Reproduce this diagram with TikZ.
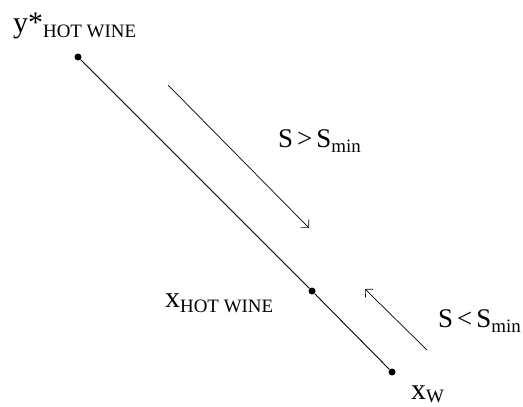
\documentclass[tikz,border=0pt]{standalone}
\usepackage{fontspec}
\setmainfont{Liberation Serif}
\usetikzlibrary{arrows.meta}
\newcommand\Lmain{\fontsize{30}{32}\selectfont}
\newcommand\Lsmain{\fontsize{27}{29}\selectfont}
\newcommand\Lsub{\fontsize{19}{20}\selectfont}
\begin{document}
\begin{tikzpicture}[x=1bp,y=-1bp,
  dot/.style={circle,fill=black,inner sep=0pt,minimum size=7bp},
  lbl/.style={anchor=base west,inner sep=0pt,text=black},
  mainline/.style={line width=0.9bp,black},
  flow/.style={line width=0.7bp,black,-{Straight Barb[angle=90:8bp,line width=0.7bp]}}]
\useasboundingbox (0,0) rectangle (523,406);
\node[dot] (top) at (78,57) {};
\node[dot] (mid) at (312,291) {};
\node[dot] (bot) at (392,372) {};
\draw[mainline] (top) -- (mid) -- (bot);
\coordinate (a1s) at (168,85);
\coordinate (a1e) at (309,228);
\coordinate (a2s) at (427,350);
\coordinate (a2e) at (365,289);
\draw[flow] (a1s) -- (a1e);
\draw[flow] (a2s) -- (a2e);
\node[lbl] (ylab) at (13,32) {\Lmain y*\raisebox{-5bp}{\Lsub HOT WINE}};
\node[lbl] (sgt) at (278,147) {\Lsmain S\hspace{4bp}>\hspace{4bp}S\raisebox{-5bp}{\Lsub min}};
\node[lbl] (xhw) at (165,307) {\Lmain x\raisebox{-5bp}{\Lsub HOT WINE}};
\node[lbl] (slt) at (438,327) {\Lsmain S\hspace{4bp}<\hspace{4bp}S\raisebox{-5bp}{\Lsub min}};
\node[lbl] (xw) at (411,399.5) {\Lmain x\raisebox{-2.5bp}{\Lsub W}};
\end{tikzpicture}
\end{document}
